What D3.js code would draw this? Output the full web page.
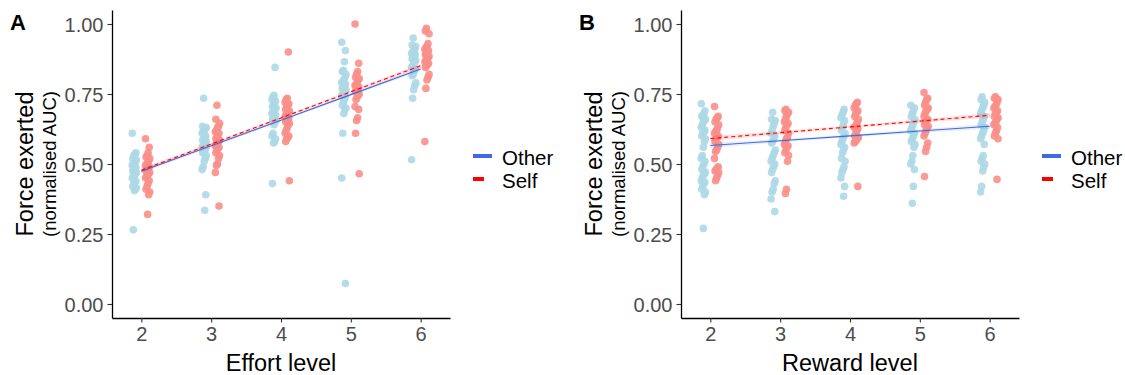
<!DOCTYPE html>
<html>
<head>
<meta charset="utf-8">
<script src="https://cdn.jsdelivr.net/npm/d3@7"></script>
<style>
  html, body { margin: 0; padding: 0; background: #fff; }
  svg { display: block; font-family: "Liberation Sans", Arial, sans-serif; }
</style>
</head>
<body>
<div id="chart"></div>
<script>
// ---- data ----
const levels = [2, 3, 4, 5, 6];
const yTicks = [0, 0.25, 0.5, 0.75, 1];
const groups = ['Other', 'Self'];

// panel A: force by effort level
const effortOther = [
  [0.61, 0.54, 0.535, 0.53, 0.52, 0.515, 0.51, 0.50, 0.50, 0.495, 0.49, 0.485, 0.48, 0.475, 0.47, 0.465, 0.46, 0.455, 0.45, 0.44, 0.435, 0.43, 0.42, 0.415, 0.41, 0.405, 0.265],
  [0.735, 0.635, 0.63, 0.625, 0.62, 0.615, 0.61, 0.60, 0.595, 0.59, 0.585, 0.58, 0.575, 0.57, 0.565, 0.56, 0.555, 0.55, 0.545, 0.54, 0.53, 0.52, 0.51, 0.49, 0.48, 0.39, 0.335],
  [0.845, 0.745, 0.74, 0.73, 0.725, 0.72, 0.71, 0.705, 0.70, 0.695, 0.69, 0.685, 0.68, 0.675, 0.67, 0.665, 0.66, 0.655, 0.65, 0.64, 0.61, 0.60, 0.59, 0.58, 0.575, 0.43],
  [0.935, 0.905, 0.865, 0.835, 0.83, 0.82, 0.81, 0.80, 0.795, 0.79, 0.785, 0.78, 0.775, 0.77, 0.765, 0.76, 0.755, 0.75, 0.745, 0.74, 0.73, 0.72, 0.71, 0.70, 0.695, 0.68, 0.61, 0.45, 0.073],
  [0.95, 0.925, 0.92, 0.91, 0.905, 0.90, 0.895, 0.89, 0.885, 0.88, 0.875, 0.87, 0.865, 0.86, 0.85, 0.845, 0.84, 0.83, 0.82, 0.815, 0.79, 0.78, 0.765, 0.735, 0.515]
];
const effortSelf = [
  [0.59, 0.56, 0.54, 0.53, 0.525, 0.52, 0.51, 0.505, 0.50, 0.495, 0.49, 0.485, 0.48, 0.475, 0.47, 0.465, 0.46, 0.455, 0.45, 0.44, 0.43, 0.42, 0.41, 0.40, 0.39, 0.32],
  [0.71, 0.66, 0.645, 0.635, 0.63, 0.62, 0.615, 0.61, 0.60, 0.595, 0.59, 0.585, 0.58, 0.575, 0.57, 0.565, 0.56, 0.555, 0.55, 0.54, 0.53, 0.52, 0.50, 0.495, 0.47, 0.35],
  [0.90, 0.735, 0.73, 0.72, 0.715, 0.71, 0.70, 0.695, 0.69, 0.685, 0.68, 0.675, 0.67, 0.665, 0.66, 0.655, 0.65, 0.645, 0.64, 0.63, 0.62, 0.61, 0.60, 0.595, 0.59, 0.58, 0.44],
  [1.0, 0.86, 0.83, 0.82, 0.81, 0.805, 0.80, 0.79, 0.785, 0.78, 0.775, 0.77, 0.765, 0.76, 0.75, 0.745, 0.74, 0.73, 0.705, 0.695, 0.665, 0.655, 0.61, 0.465],
  [0.985, 0.975, 0.965, 0.93, 0.92, 0.915, 0.91, 0.905, 0.90, 0.895, 0.89, 0.885, 0.88, 0.875, 0.87, 0.865, 0.86, 0.855, 0.85, 0.845, 0.82, 0.81, 0.80, 0.77, 0.58]
];
// fitted line at level 2 and level 6, plus ribbon half-width per level
const effortFitOther = [0.474, 0.839];
const effortFitSelf = [0.478, 0.851];
const effortSeOther = [0.007, 0.005, 0.004, 0.005, 0.007];
const effortSeSelf = [0.007, 0.005, 0.004, 0.005, 0.007];

// panel B: force by reward level
const rewardOther = [
  [0.715, 0.69, 0.68, 0.675, 0.67, 0.66, 0.655, 0.65, 0.64, 0.63, 0.62, 0.615, 0.61, 0.60, 0.59, 0.58, 0.56, 0.53, 0.52, 0.51, 0.50, 0.49, 0.48, 0.47, 0.465, 0.46, 0.45, 0.44, 0.435, 0.43, 0.42, 0.41, 0.40, 0.39, 0.27],
  [0.685, 0.66, 0.655, 0.645, 0.635, 0.62, 0.61, 0.60, 0.59, 0.58, 0.575, 0.55, 0.54, 0.53, 0.52, 0.51, 0.50, 0.49, 0.48, 0.47, 0.44, 0.43, 0.41, 0.40, 0.375, 0.33],
  [0.695, 0.685, 0.675, 0.665, 0.655, 0.645, 0.63, 0.62, 0.61, 0.60, 0.59, 0.58, 0.57, 0.56, 0.55, 0.54, 0.52, 0.51, 0.49, 0.48, 0.47, 0.45, 0.42, 0.385],
  [0.71, 0.70, 0.69, 0.68, 0.67, 0.66, 0.65, 0.64, 0.63, 0.62, 0.61, 0.60, 0.59, 0.58, 0.57, 0.56, 0.53, 0.51, 0.50, 0.48, 0.42, 0.36],
  [0.74, 0.73, 0.72, 0.71, 0.70, 0.69, 0.68, 0.67, 0.66, 0.65, 0.64, 0.63, 0.62, 0.61, 0.60, 0.59, 0.57, 0.53, 0.52, 0.51, 0.50, 0.49, 0.475, 0.42, 0.40]
];
const rewardSelf = [
  [0.705, 0.67, 0.665, 0.66, 0.65, 0.64, 0.63, 0.62, 0.615, 0.61, 0.60, 0.595, 0.59, 0.58, 0.57, 0.56, 0.55, 0.545, 0.52, 0.49, 0.485, 0.48, 0.475, 0.47, 0.46, 0.45, 0.44],
  [0.695, 0.69, 0.685, 0.68, 0.67, 0.66, 0.65, 0.645, 0.64, 0.63, 0.62, 0.61, 0.595, 0.59, 0.58, 0.57, 0.565, 0.56, 0.55, 0.54, 0.53, 0.51, 0.41, 0.395],
  [0.72, 0.715, 0.71, 0.70, 0.69, 0.685, 0.68, 0.67, 0.66, 0.65, 0.64, 0.635, 0.63, 0.625, 0.62, 0.61, 0.60, 0.595, 0.59, 0.585, 0.58, 0.575, 0.42],
  [0.755, 0.735, 0.73, 0.72, 0.71, 0.70, 0.695, 0.69, 0.68, 0.67, 0.66, 0.655, 0.65, 0.64, 0.635, 0.63, 0.62, 0.61, 0.60, 0.575, 0.56, 0.545, 0.455],
  [0.74, 0.735, 0.73, 0.72, 0.71, 0.705, 0.70, 0.69, 0.685, 0.68, 0.67, 0.665, 0.66, 0.65, 0.645, 0.64, 0.63, 0.62, 0.61, 0.60, 0.59, 0.445]
];
const rewardFitOther = [0.566, 0.635];
const rewardFitSelf = [0.591, 0.674];
const rewardSeOther = [0.009, 0.006, 0.005, 0.006, 0.009];
const rewardSeSelf = [0.009, 0.006, 0.005, 0.006, 0.009];

// ---- style ----
const W = 1125, H = 375;
const pointColor = { Other: '#ADD8E6', Self: '#F98F8A' };
const lineColor = { Other: '#4169E1', Self: '#FF0000' };
const groupShift = { Other: -0.1, Self: 0.09 };

const svg = d3.select('#chart').append('svg')
  .attr('width', W).attr('height', H);

function drawPanel(p) {
  const x = d3.scaleLinear().domain([1.58, 6.42]).range([p.left, p.right]);
  const y = d3.scaleLinear().domain([-0.05, 1.05]).range([318, 10]);
  const g = svg.append('g');

  // jittered points
  groups.forEach(grp => {
    const vals = p.points[grp];
    const pts = [];
    vals.forEach((arr, li) => arr.forEach((v, i) => {
      const jit = (((i * 7 + li * 3) % 9) - 4) / 4 * 0.03;
      pts.push({ lx: levels[li] + groupShift[grp] + jit, v });
    }));
    g.append('g').selectAll('circle')
      .data(pts)
      .enter().append('circle')
      .attr('cx', d => x(d.lx))
      .attr('cy', d => y(d.v))
      .attr('r', 3.8)
      .attr('fill', pointColor[grp])
      .attr('fill-opacity', 0.9);
  });

  // ribbons + fitted lines
  groups.forEach(grp => {
    const fit = p.fit[grp];
    const se = p.se[grp];
    const fitAt = lv => fit[0] + (fit[1] - fit[0]) * (lv - 2) / 4;
    const band = levels.map((lv, i) => ({ lv, lo: fitAt(lv) - se[i], hi: fitAt(lv) + se[i] }));
    g.append('path')
      .datum(band)
      .attr('fill', lineColor[grp])
      .attr('fill-opacity', 0.12)
      .attr('d', d3.area().x(d => x(d.lv)).y0(d => y(d.lo)).y1(d => y(d.hi)));
    g.append('path')
      .datum(levels)
      .attr('fill', 'none')
      .attr('stroke', lineColor[grp])
      .attr('stroke-width', 1.1)
      .attr('stroke-dasharray', grp === 'Self' ? '4,3' : null)
      .attr('d', d3.line().x(d => x(d)).y(d => y(fitAt(d))));
  });

  // axes
  const yAxis = g.append('g').attr('transform', `translate(${p.left},0)`)
    .call(d3.axisLeft(y).tickValues(yTicks).tickFormat(d3.format('.2f'))
      .tickSizeInner(4.5).tickSizeOuter(0).tickPadding(4));
  const xAxis = g.append('g').attr('transform', 'translate(0,318)')
    .call(d3.axisBottom(x).tickValues(levels).tickFormat(d3.format('d'))
      .tickSizeInner(4.5).tickSizeOuter(0).tickPadding(3));
  [yAxis, xAxis].forEach(a => {
    a.select('.domain').attr('stroke', '#000').attr('stroke-width', 1.3);
    a.selectAll('.tick line').attr('stroke', '#333').attr('stroke-width', 1.1);
    a.selectAll('.tick text').attr('fill', '#4D4D4D').style('font-size', '20px')
      .style('font-family', '"Liberation Sans", Arial, sans-serif');
  });
  yAxis.selectAll('.tick text').attr('dy', '0.36em');
  xAxis.selectAll('.tick text').attr('dy', '0.76em');

  // titles
  g.append('text')
    .attr('transform', `translate(${p.left - 79},164) rotate(-90)`)
    .attr('text-anchor', 'middle')
    .style('font-size', '23.5px')
    .text('Force exerted');
  g.append('text')
    .attr('transform', `translate(${p.left - 56},164) rotate(-90)`)
    .attr('text-anchor', 'middle')
    .style('font-size', '18.5px')
    .text('(normalised AUC)');
  g.append('text')
    .attr('x', (p.left + p.right) / 2).attr('y', 371)
    .attr('text-anchor', 'middle')
    .style('font-size', '23.5px')
    .text(p.xTitle);
  g.append('text')
    .attr('x', p.left - 102).attr('y', 30)
    .style('font-size', '22px').style('font-weight', 'bold')
    .text(p.tag);

  // legend
  const lg = g.append('g').attr('transform', `translate(${p.right + 23},0)`);
  groups.forEach((grp, i) => {
    const yy = 156 + i * 23;
    lg.append('line')
      .attr('x1', 0).attr('x2', 19).attr('y1', yy).attr('y2', yy)
      .attr('stroke', lineColor[grp]).attr('stroke-width', 4)
      .attr('stroke-dasharray', grp === 'Self' ? '11,20' : null);
    lg.append('text')
      .attr('x', 29).attr('y', yy + 9)
      .style('font-size', '20.5px')
      .text(grp);
  });
}

drawPanel({
  tag: 'A', left: 112, right: 450, xTitle: 'Effort level',
  points: { Other: effortOther, Self: effortSelf },
  fit: { Other: effortFitOther, Self: effortFitSelf },
  se: { Other: effortSeOther, Self: effortSeSelf }
});
drawPanel({
  tag: 'B', left: 681, right: 1019, xTitle: 'Reward level',
  points: { Other: rewardOther, Self: rewardSelf },
  fit: { Other: rewardFitOther, Self: rewardFitSelf },
  se: { Other: rewardSeOther, Self: rewardSeSelf }
});
</script>
</body>
</html>
